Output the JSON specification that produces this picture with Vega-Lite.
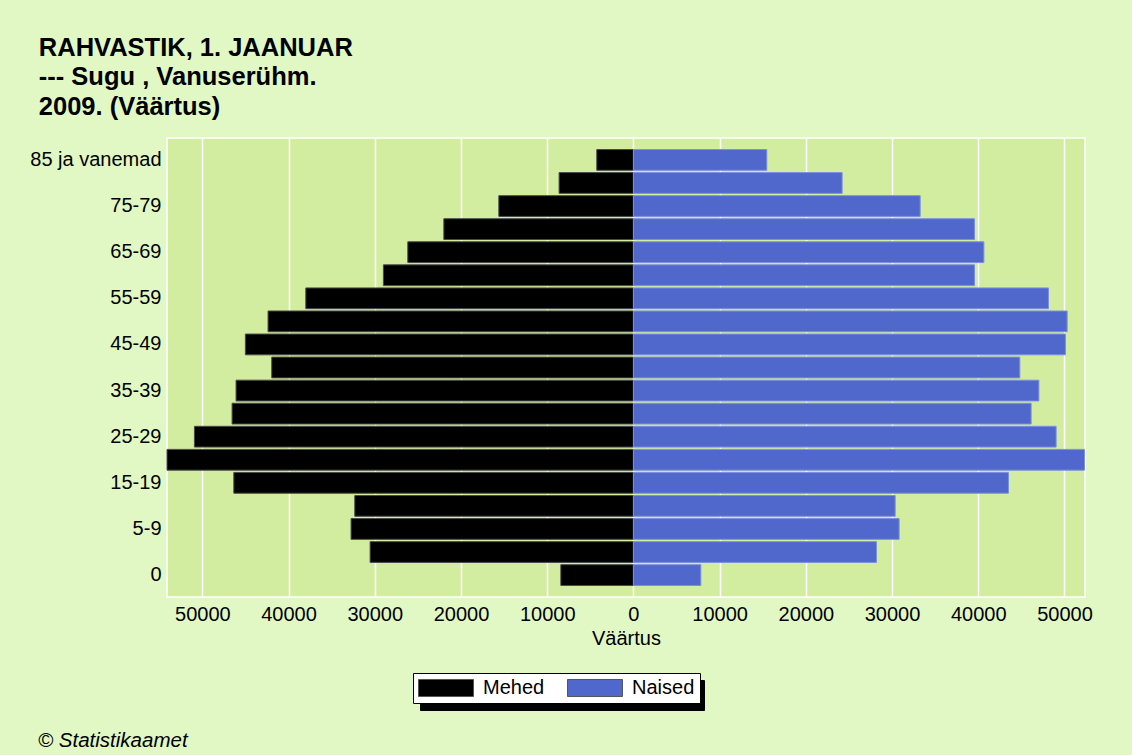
{
  "$schema": "https://vega.github.io/schema/vega-lite/v6.json",
  "background": "#e2f8c4",
  "padding": {"left": 29, "top": 34, "right": 40, "bottom": 7},
  "title": {
    "text": "© Statistikaamet",
    "orient": "bottom",
    "anchor": "start",
    "frame": "bounds",
    "font": "Liberation Sans",
    "fontSize": 20.5,
    "fontStyle": "italic",
    "fontWeight": "normal",
    "color": "#000000",
    "offset": 20,
    "dx": 9
  },
  "config": {
    "view": {"fill": "#d2eda0", "stroke": "white", "strokeWidth": 1.5},
    "axis": {
      "labelFont": "Liberation Sans",
      "labelFontSize": 20,
      "labelColor": "#000000",
      "titleFont": "Liberation Sans",
      "titleFontSize": 20,
      "titleFontWeight": "normal",
      "titleColor": "#000000",
      "gridColor": "white",
      "gridWidth": 1.5,
      "gridOpacity": 1,
      "domain": false,
      "ticks": false
    }
  },
  "vconcat": [
    {
      "width": 918,
      "height": 459,
      "title": {
        "text": ["RAHVASTIK, 1. JAANUAR", "--- Sugu , Vanuserühm.", "2009. (Väärtus)"],
        "anchor": "start",
        "frame": "bounds",
        "font": "Liberation Sans",
        "fontSize": 25.5,
        "fontWeight": "bold",
        "lineHeight": 29.5,
        "color": "#000000",
        "offset": 18,
        "dx": 9
      },
      "data": {
        "values": [
          {"age": "0", "sex": "Mehed", "value": -8420},
          {"age": "1-4", "sex": "Mehed", "value": -30540},
          {"age": "5-9", "sex": "Mehed", "value": -32750},
          {"age": "10-14", "sex": "Mehed", "value": -32320},
          {"age": "15-19", "sex": "Mehed", "value": -46350},
          {"age": "20-24", "sex": "Mehed", "value": -54100},
          {"age": "25-29", "sex": "Mehed", "value": -50920},
          {"age": "30-34", "sex": "Mehed", "value": -46550},
          {"age": "35-39", "sex": "Mehed", "value": -46090},
          {"age": "40-44", "sex": "Mehed", "value": -41950},
          {"age": "45-49", "sex": "Mehed", "value": -45010},
          {"age": "50-54", "sex": "Mehed", "value": -42380},
          {"age": "55-59", "sex": "Mehed", "value": -38000},
          {"age": "60-64", "sex": "Mehed", "value": -29000},
          {"age": "65-69", "sex": "Mehed", "value": -26170},
          {"age": "70-74", "sex": "Mehed", "value": -21990},
          {"age": "75-79", "sex": "Mehed", "value": -15610},
          {"age": "80-84", "sex": "Mehed", "value": -8620},
          {"age": "85 ja vanemad", "sex": "Mehed", "value": -4250},
          {"age": "0", "sex": "Naised", "value": 7820},
          {"age": "1-4", "sex": "Naised", "value": 28190},
          {"age": "5-9", "sex": "Naised", "value": 30820},
          {"age": "10-14", "sex": "Naised", "value": 30360},
          {"age": "15-19", "sex": "Naised", "value": 43500},
          {"age": "20-24", "sex": "Naised", "value": 52320},
          {"age": "25-29", "sex": "Naised", "value": 49030},
          {"age": "30-34", "sex": "Naised", "value": 46130},
          {"age": "35-39", "sex": "Naised", "value": 47030},
          {"age": "40-44", "sex": "Naised", "value": 44820},
          {"age": "45-49", "sex": "Naised", "value": 50110},
          {"age": "50-54", "sex": "Naised", "value": 50310},
          {"age": "55-59", "sex": "Naised", "value": 48140},
          {"age": "60-64", "sex": "Naised", "value": 39560},
          {"age": "65-69", "sex": "Naised", "value": 40650},
          {"age": "70-74", "sex": "Naised", "value": 39560},
          {"age": "75-79", "sex": "Naised", "value": 33260},
          {"age": "80-84", "sex": "Naised", "value": 24210},
          {"age": "85 ja vanemad", "sex": "Naised", "value": 15470}
        ]
      },
      "mark": {"type": "bar", "strokeWidth": 1},
      "encoding": {
        "y": {
          "field": "age",
          "type": "nominal",
          "sort": ["85 ja vanemad", "80-84", "75-79", "70-74", "65-69", "60-64", "55-59", "50-54", "45-49", "40-44", "35-39", "30-34", "25-29", "20-24", "15-19", "10-14", "5-9", "1-4", "0"],
          "scale": {"paddingInner": 0.1, "paddingOuter": 0.5},
          "axis": {
            "title": null,
            "labelPadding": 6,
            "values": ["85 ja vanemad", "75-79", "65-69", "55-59", "45-49", "35-39", "25-29", "15-19", "5-9", "0"]
          }
        },
        "x": {
          "field": "value",
          "type": "quantitative",
          "scale": {"domain": [-54100, 52380], "nice": false, "zero": false},
          "axis": {
            "title": "Väärtus",
            "values": [-50000, -40000, -30000, -20000, -10000, 0, 10000, 20000, 30000, 40000, 50000],
            "labelExpr": "format(abs(datum.value), 'd')",
            "labelPadding": 7,
            "titlePadding": 4
          }
        },
        "fill": {
          "field": "sex",
          "type": "nominal",
          "scale": {"domain": ["Mehed", "Naised"], "range": ["#000000", "#5068cc"]},
          "legend": {
            "orient": "none",
            "legendX": 246,
            "legendY": 535,
            "zindex": 2,
            "direction": "horizontal",
            "title": null,
            "fillColor": "white",
            "strokeColor": "black",
            "padding": 5,
            "clipHeight": 20,
            "symbolType": "M-1,-0.31H1V0.31H-1Z",
            "symbolSize": 3025,
            "symbolStrokeColor": "#555555",
            "symbolStrokeWidth": 1,
            "symbolOpacity": 1,
            "labelFont": "Liberation Sans",
            "labelFontSize": 20,
            "labelColor": "#000000",
            "labelOffset": 9,
            "columnPadding": 22
          }
        },
        "stroke": {
          "field": "sex",
          "type": "nominal",
          "scale": {"domain": ["Naised", "Mehed"], "range": ["#7d8fe0", "#4a4a4a"]},
          "legend": {
            "orient": "none",
            "legendX": 253,
            "legendY": 542,
            "zindex": 1,
            "direction": "horizontal",
            "title": null,
            "fillColor": "black",
            "strokeColor": "black",
            "padding": 5,
            "clipHeight": 20,
            "symbolType": "M-1,-0.31H1V0.31H-1Z",
            "symbolSize": 3025,
            "symbolStrokeWidth": 0,
            "symbolOpacity": 0,
            "labelExpr": "''",
            "labelFontSize": 20,
            "labelOffset": 71,
            "columnPadding": 22
          }
        }
      }
    }
  ]
}
